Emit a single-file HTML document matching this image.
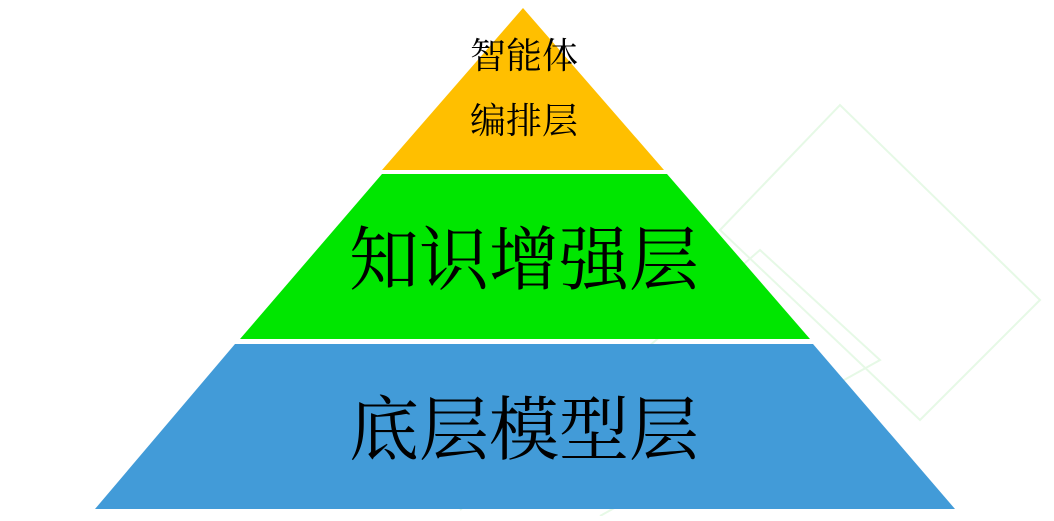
<!DOCTYPE html>
<html><head><meta charset="utf-8"><style>
body{margin:0;background:#fff;width:1054px;height:516px;overflow:hidden}
svg text{font-family:"Liberation Serif","Noto Serif CJK SC",serif;fill:#000}
</style></head><body>
<svg width="1054" height="516" xmlns="http://www.w3.org/2000/svg">
<g fill="none" stroke="#e6f9e6" stroke-width="2">
<path d="M720 230 L840 105 L1040 300 L920 420 Z"/>
<path d="M460 510 L760 250 L880 360 L600 516"/>
</g>
<polygon points="523,8 664,170 382,170" fill="#ffbf00"/>
<polygon points="382,174 667,174 810,339 240,339" fill="#00e600"/>
<polygon points="235,344 813,344 955,509 95,509" fill="#429bd8"/>
<text x="524" y="68" font-size="36" text-anchor="middle">智能体</text>
<text x="524" y="133" font-size="36" text-anchor="middle">编排层</text>
<text x="524" y="284" font-size="70" text-anchor="middle">知识增强层</text>
<text x="524" y="454" font-size="70" text-anchor="middle">底层模型层</text>
</svg>
</body></html>
